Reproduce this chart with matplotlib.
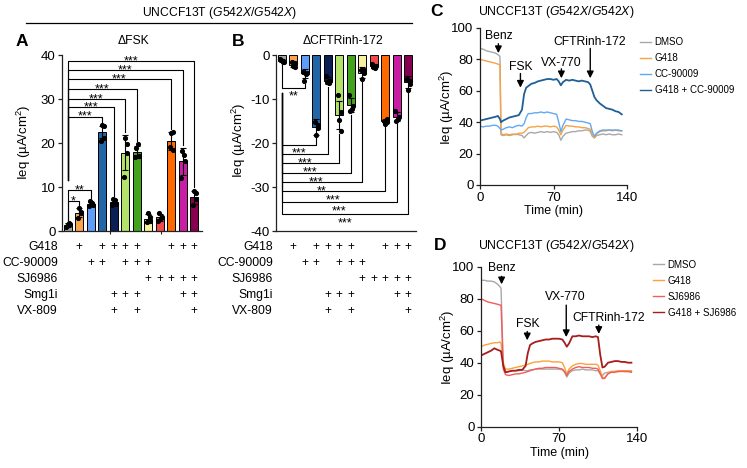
import matplotlib
matplotlib.use("Agg")
import matplotlib.pyplot as plt
import matplotlib.transforms as mtransforms

plt.rcParams["font.family"] = ["Liberation Sans", "DejaVu Sans"]
plt.rcParams["mathtext.fontset"] = "custom"
plt.rcParams["mathtext.rm"] = "Liberation Sans"
plt.rcParams["mathtext.it"] = "Liberation Sans:italic"
plt.rcParams["axes.unicode_minus"] = False

# ---- bar panels (A: dFSK, B: dCFTRinh-172) ----
bar_colors = ["#a3a3a3", "#f9a34a", "#5e9ef6", "#2366a8", "#0c1f55", "#b5e26a",
              "#43a31b", "#f8f2a0", "#f24a4a", "#ff6a00", "#c91ea3", "#87004f"]

fsk_mean = [1.4, 4.2, 6.1, 22.5, 6.6, 17.8, 18.0, 2.8, 3.1, 20.4, 15.8, 7.7]
fsk_sd = [0.4, 1.1, 0.5, 1.3, 0.6, 4.0, 1.4, 1.0, 0.8, 2.0, 3.0, 1.5]
fsk_dots = [
    [1.0, 1.8, 1.2, 1.6], [3.0, 4.3, 5.3, 4.0], [5.6, 6.4, 6.8, 5.8],
    [20.5, 23.8, 24.0, 21.2], [5.8, 7.0, 7.3, 6.2], [12.3, 19.8, 21.2, 17.8],
    [16.8, 19.7, 18.8, 17.0], [2.0, 3.2, 4.2, 2.2], [2.3, 3.0, 4.0, 3.2],
    [19.0, 22.5, 22.3, 18.4], [12.0, 17.2, 18.2, 15.8], [6.0, 8.7, 9.2, 7.2],
]

inh_mean = [-1.3, -2.2, -4.2, -16.3, -5.8, -13.6, -11.3, -4.0, -2.5, -15.0, -14.0, -6.1]
inh_sd = [0.3, 0.6, 1.0, 1.8, 0.7, 3.2, 1.6, 1.2, 0.5, 0.3, 1.0, 1.4]
inh_dots = [
    [-1.0, -1.5, -1.2, -1.6], [-1.5, -2.8, -2.5, -1.9], [-3.8, -4.4, -5.9, -4.0],
    [-15.2, -16.0, -18.2, -16.5], [-4.8, -6.4, -6.2, -6.0], [-9.0, -13.0, -14.8, -17.3],
    [-9.0, -12.2, -12.8, -11.5], [-3.5, -4.2, -5.5, -3.3], [-2.0, -3.0, -2.8, -2.4],
    [-15.0, -15.2, -15.6, -14.6], [-12.8, -14.6, -15.0, -14.2], [-5.4, -6.6, -8.0, -5.8],
]

# (target bar, bracket height, label)
fsk_small = [(1, 6.9, "*"), (2, 9.3, "**")]
fsk_big = [(3, 26.0, "***"), (4, 28.2, "***"), (5, 30.0, "***"), (6, 32.2, "***"),
           (9, 34.5, "***"), (10, 36.6, "***"), (11, 38.6, "***")]
inh_small = [(2, -7.4, "**")]
inh_big = [(3, -20.4, "***"), (4, -22.5, "***"), (5, -24.6, "***"), (6, -26.8, "***"),
           (7, -28.9, "**"), (9, -30.9, "***"), (10, -33.4, "***"), (11, -36.1, "***")]

treat_names = ["G418", "CC-90009", "SJ6986", "Smg1i", "VX-809"]
treat_rows = [
    [1, 3, 4, 5, 6, 9, 10, 11],
    [2, 3, 5, 6, 7],
    [7, 8, 9, 10, 11],
    [4, 5, 6, 10, 11],
    [4, 6, 11],
]

# ---- time courses ----
t_c = [0, 3, 6, 9, 12, 15, 17, 19, 20, 22, 25, 28, 31, 34, 37, 40, 42, 44, 46, 49, 52,
       55, 58, 61, 64, 67, 70, 73, 75, 77, 79, 82, 85, 88, 91, 94, 97, 100, 103, 105,
       107, 109, 111, 114, 117, 120, 123, 126, 129, 132, 135]
c_dmso = [87, 86.5, 85.5, 85, 84.5, 84, 83, 82, 32, 31.5, 32, 31.5, 32, 32.5, 32, 31.5,
          30, 31.5, 33, 33.5, 33, 33.5, 34, 33.5, 34, 33.5, 34, 33.5, 32, 28.5, 31, 33,
          33.5, 34, 34, 34.5, 34.5, 35, 35, 34, 31, 30, 31.5, 32, 32.5, 32, 32.5, 32, 32,
          32.5, 32]
c_g418 = [80, 79.5, 79, 78.5, 78, 77.5, 77, 76.5, 33, 32, 32.5, 32, 32.5, 32, 33, 33,
          33.5, 35, 36.5, 37, 37, 37.5, 37, 37.5, 37.5, 37, 37.5, 37, 35, 32, 35, 38,
          37.5, 37.5, 37, 37, 36.5, 36.5, 36, 35.5, 32, 30, 32.5, 34, 34.5, 34.5, 35,
          34.5, 35, 34.5, 34.5]
c_cc = [37.5, 37, 37.5, 37.5, 38, 38, 37.5, 36, 35, 35.5, 36.5, 37, 36.5, 37.5, 38,
        37.5, 39, 43, 45.5, 45.5, 46, 46, 46.5, 46, 46.5, 46, 45.5, 45, 40, 34, 38, 42,
        41.5, 41, 41, 40.5, 40.5, 40, 39.5, 39, 34, 31, 33, 34.5, 35, 35, 35, 35, 35,
        35, 34.5]
c_combo = [41, 41.5, 42, 42.5, 43, 43.5, 44, 42, 40, 41, 42, 43, 43.5, 44, 44.5, 48,
           58, 62, 63, 64.5, 65, 66, 66.5, 67, 67.5, 67.5, 67, 67.5, 66, 63.5, 65.5, 67,
           66.5, 67, 66.5, 66, 66.5, 66, 65.5, 64, 60, 56, 54, 52, 50.5, 49, 48.5, 48,
           47, 46.5, 45]

t_d = [0, 3, 6, 9, 12, 15, 17, 18, 20, 22, 25, 28, 31, 34, 37, 40, 42, 44, 46, 49, 52,
       55, 58, 61, 64, 67, 70, 73, 75, 77, 79, 82, 85, 88, 91, 94, 97, 100, 103, 105,
       107, 109, 111, 114, 117, 120, 123, 126, 129, 132, 135]
d_dmso = [91.5, 91.5, 91, 91, 90.5, 89, 87.5, 86.5, 38, 34, 34.5, 35, 35, 35, 35.5, 35,
          35, 35.5, 35.5, 36, 36, 36, 36, 36, 36, 36, 36, 35.5, 34, 31, 33.5, 35, 35.5,
          35.5, 36, 35.5, 35.5, 35.5, 35, 35, 33, 32, 33.5, 34, 34.5, 34.5, 34.5, 35,
          34.5, 34.5, 34.5]
d_g418 = [50, 51, 51.5, 52, 52.5, 52.5, 53, 52, 40, 36, 36, 36.5, 37, 37.5, 38, 38.5,
          39, 39.5, 40, 40.5, 40.5, 41, 41, 41, 40.5, 40.5, 40.5, 40, 37, 33, 36, 38, 39,
          39.5, 39.5, 39, 39, 39, 39, 38.5, 35, 31, 30, 33.5, 34.5, 34.5, 35, 35, 35, 35,
          35]
d_sj = [80, 79, 78, 77.5, 77, 76.5, 76, 76, 36, 32.5, 32, 32.5, 33, 33, 33.5, 34, 34.5,
        35, 35.5, 36, 36.5, 36.5, 37, 37, 37, 37, 36.5, 36, 34.5, 32, 34.5, 36, 37, 37.5,
        37, 37, 37, 36.5, 36.5, 36, 33, 30, 30.5, 33, 34, 34, 34.5, 34.5, 34.5, 34.5, 34]
d_combo = [44.5, 45.5, 46.5, 47.5, 49, 48, 47.5, 47, 38, 34, 34.5, 35, 35, 35.5, 35.5,
           38, 46, 51, 52, 53, 53.5, 54, 54.5, 54.5, 55, 55, 55, 54.5, 52.5, 50, 52,
           56.5, 56.5, 57, 56.5, 56.5, 56.5, 56, 56.5, 56, 45, 37, 37.5, 40, 40.5, 41,
           41, 40.5, 40.5, 40, 40]

INK = "#222222"
YLAB = "Ieq (\u00b5A/cm$^2$)"
TITLE = "UNCCF13T ($\\mathit{G542X/G542X}$)"

W, H = 747, 468
fig = plt.figure(figsize=(W / 100, H / 100), dpi=100)


def fx(px):
    return px / W


def fy(py):
    return 1 - py / H


def style_axis(ax):
    for s in ["top", "right"]:
        ax.spines[s].set_visible(False)
    for s in ["left", "bottom"]:
        ax.spines[s].set_color(INK)
        ax.spines[s].set_linewidth(0.9)
    ax.tick_params(labelsize=9.5, length=3.2, width=0.9, color=INK, pad=1.5)


def bar_panel(ax, means, sds, dots):
    x = list(range(len(means)))
    ax.bar(x, means, width=0.68, color=bar_colors, edgecolor="black", linewidth=0.7, zorder=2)
    ax.errorbar(x, means, yerr=sds, fmt="none", ecolor="black", elinewidth=0.8,
                capsize=2, capthick=0.8, zorder=3)
    offs = [-0.14, 0.12, -0.04, 0.16]
    for i, vals in enumerate(dots):
        ax.plot([i + o for o in offs], vals, "o", color="black", ms=2.7, zorder=4)
    ax.set_xlim(-0.5, 11.68)
    ax.set_xticks([])
    style_axis(ax)


def brackets(ax, means, sds, dots, items, leg_start, up=True):
    for j, level, lab in items:
        if up:
            end = max(max(dots[j]), means[j] + sds[j]) + 0.7
        else:
            end = min(min(dots[j]), means[j] - sds[j]) - 0.7
        ax.plot([0, 0, j, j], [leg_start, level, level, end], color="black", lw=0.8,
                zorder=5, clip_on=False)
        ax.text(j / 2, level + (-0.75 if up else -2.75), lab, ha="center",
                va="baseline", fontsize=9, zorder=6)


# panel A
axA = fig.add_axes([fx(62), fy(231), fx(140), 176 / H])
bar_panel(axA, fsk_mean, fsk_sd, fsk_dots)
axA.set_ylim(0, 40)
axA.set_yticks([0, 10, 20, 30, 40])
axA.set_xticks([3.7, 8.1], minor=True)
axA.tick_params(axis="x", which="minor", length=2, width=0.8, color=INK)
brackets(axA, fsk_mean, fsk_sd, fsk_dots, fsk_small, 2.6, up=True)
brackets(axA, fsk_mean, fsk_sd, fsk_dots, fsk_big, 11.5, up=True)

# panel B
axB = fig.add_axes([fx(276), fy(231), fx(140), 176 / H])
bar_panel(axB, inh_mean, inh_sd, inh_dots)
axB.set_ylim(-40, 0)
axB.set_yticks([0, -10, -20, -30, -40])
brackets(axB, inh_mean, inh_sd, inh_dots, inh_small, -2.3, up=False)
brackets(axB, inh_mean, inh_sd, inh_dots, inh_big, -8.7, up=False)

# treatment table under A and B
for ax, lab_x in [(axA, 58), (axB, 273)]:
    trans = mtransforms.blended_transform_factory(ax.transData, fig.transFigure)
    for r, (name, cols) in enumerate(zip(treat_names, treat_rows)):
        yy = fy(246.7 + 16 * r)
        fig.text(fx(lab_x), yy, name, ha="right", va="center", fontsize=8.7)
        for c in cols:
            ax.text(c, yy, "+", transform=trans, ha="center", va="center", fontsize=8.5,
                    clip_on=False)

# headers for A/B
fig.text(fx(219), fy(13), TITLE, ha="center", va="center", fontsize=8.7)
fig.add_artist(plt.Line2D([fx(26), fx(412)], [fy(22.5), fy(22.5)], color="black", lw=0.9))
fig.text(fx(22), fy(41), "A", ha="center", va="center", fontsize=12.5, fontweight="bold")
fig.text(fx(238), fy(41), "B", ha="center", va="center", fontsize=12.5, fontweight="bold")
fig.text(fx(133), fy(41), "\u0394FSK", ha="center", va="center", fontsize=8.7)
fig.text(fx(343), fy(41), "\u0394CFTRinh-172", ha="center", va="center", fontsize=8.7)
fig.text(fx(24), fy(142), YLAB, rotation=90, ha="center", va="center", fontsize=9.5)
fig.text(fx(239), fy(140), YLAB, rotation=90, ha="center", va="center", fontsize=9.5)


def trace_panel(ax, t, series, labels, colors, notes, leg_xy):
    for vals, lab, col in zip(series, labels, colors):
        ax.plot(t, vals, color=col, lw=1.3 if col in ("#1f5f96", "#a81c1c") else 1.0,
                label=lab)
    ax.set_xlim(0, 140)
    ax.set_ylim(0, 100)
    ax.set_xticks([0, 70, 140])
    ax.set_yticks([0, 20, 40, 60, 80, 100])
    style_axis(ax)
    ax.set_xlabel("Time (min)", fontsize=9, labelpad=1)
    for text, tx, ty, ax_x, y0, y1 in notes:
        ax.annotate("", xy=(ax_x, y1), xytext=(ax_x, y0),
                    arrowprops=dict(arrowstyle="-|>,head_width=0.2,head_length=0.4",
                                    color="black", lw=1.0, shrinkA=0, shrinkB=0),
                    annotation_clip=False)
        ax.text(tx, ty, text, ha="center", va="center", fontsize=8.7, clip_on=False)
    leg = ax.legend(loc="upper left", bbox_to_anchor=leg_xy, bbox_transform=fig.transFigure,
                    frameon=False, fontsize=7, handlelength=1.1, handletextpad=0.4,
                    labelspacing=0.62, borderpad=0, borderaxespad=0)
    for line in leg.get_lines():
        line.set_linewidth(1.0)


# panel C
axC = fig.add_axes([fx(480), fy(185), fx(147), 157 / H])
notes_c = [("Benz", 18, 95, 17.5, 90, 84), ("FSK", 38.7, 75, 38.5, 71, 62),
           ("VX-770", 77.8, 78, 77.5, 74, 68), ("CFTRinh-172", 104.8, 91, 105, 87, 68)]
trace_panel(axC, t_c, [c_dmso, c_g418, c_cc, c_combo],
            ["DMSO", "G418", "CC-90009", "G418 + CC-90009"],
            ["#a8a8a8", "#f7a343", "#62a8f5", "#1f5f96"], notes_c, (fx(640), fy(37)))
fig.text(fx(436), fy(12), "C", ha="center", va="center", fontsize=12.5, fontweight="bold")
fig.text(fx(478), fy(12), TITLE, ha="left", va="center", fontsize=8.8)
fig.text(fx(447), fy(107), YLAB, rotation=90, ha="center", va="center", fontsize=9.5)

# panel D
axD = fig.add_axes([fx(481), fy(426.7), fx(156), 160 / H])
notes_d = [("Benz", 18.8, 99, 18.5, 94, 89), ("FSK", 41.7, 64, 41.5, 59.5, 54),
           ("VX-770", 76, 81, 76.5, 76, 56), ("CFTRinh-172", 115, 68, 105.7, 63.5, 58)]
trace_panel(axD, t_d, [d_dmso, d_g418, d_sj, d_combo],
            ["DMSO", "G418", "SJ6986", "G418 + SJ6986"],
            ["#a8a8a8", "#fba23a", "#f25c5c", "#a81c1c"], notes_d, (fx(653), fy(259.5)))
fig.text(fx(440), fy(246), "D", ha="center", va="center", fontsize=12.5, fontweight="bold")
fig.text(fx(478), fy(246), TITLE, ha="left", va="center", fontsize=8.8)
fig.text(fx(448), fy(347), YLAB, rotation=90, ha="center", va="center", fontsize=9.5)

fig.savefig("out.png", dpi=100)
